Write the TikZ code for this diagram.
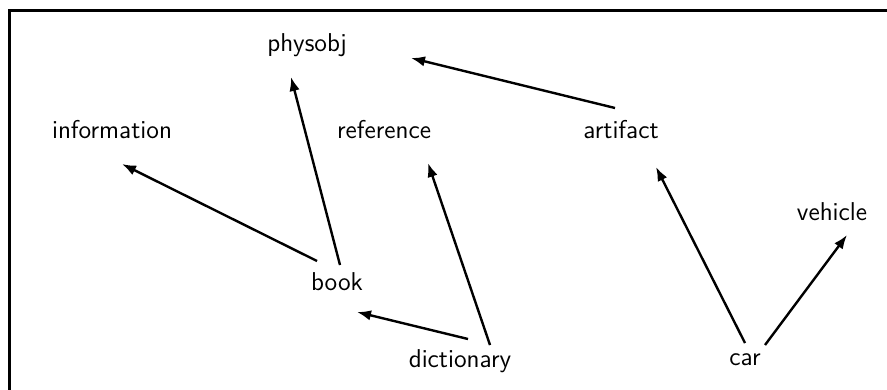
\documentclass[tikz,border=0pt]{standalone}
\usetikzlibrary{arrows.meta,calc}
\begin{document}
\begin{tikzpicture}[x=0.5pt,y=-0.5pt,
  lbl/.style={anchor=base,inner sep=0pt,font=\fontsize{12.9}{15}\selectfont\sffamily},
  arr/.style={line width=1.2pt,-{Latex[length=7pt,width=5.2pt]}},
  frame/.style={line width=1.5pt}]
\useasboundingbox (0,0) rectangle (887,390);
\draw[frame] (9.5,390) -- (9.5,10.5) -- (887,10.5);
\node[lbl] (physobj) at (307,52) {physobj};
\node[lbl] (information) at (112,138) {information};
\node[lbl] (reference) at (384,138) {reference};
\node[lbl] (artifact) at (621,138) {artifact};
\node[lbl] (vehicle) at (832,220) {vehicle};
\node[lbl] (book) at (337,290) {book};
\node[lbl] (dictionary) at (460,367) {dictionary};
\node[lbl] (car) at (745,365) {car};
\draw[arr] ($(book.base)+(-20,-29)$) -- ($(information.base)+(10,26)$);
\draw[arr] ($(book.base)+(3,-25)$) -- ($(physobj.base)+(-16,25)$);
\draw[arr] ($(dictionary.base)+(8,-28)$) -- ($(book.base)+(20,22)$);
\draw[arr] ($(dictionary.base)+(30,-22)$) -- ($(reference.base)+(44,25)$);
\draw[arr] ($(artifact.base)+(-6,-30)$) -- ($(physobj.base)+(104,6)$);
\draw[arr] ($(car.base)+(0,-22)$) -- ($(artifact.base)+(35,29)$);
\draw[arr] ($(car.base)+(20,-20)$) -- ($(vehicle.base)+(15,15)$);
\end{tikzpicture}
\end{document}
